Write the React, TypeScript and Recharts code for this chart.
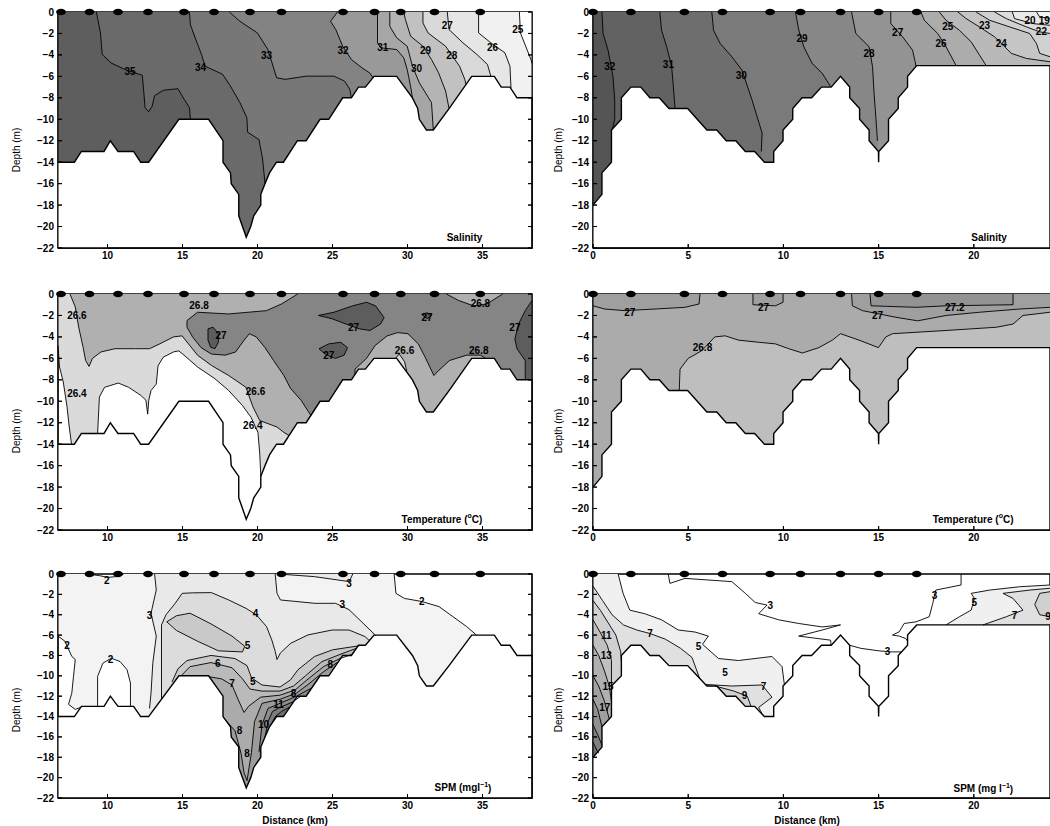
import React from 'react';
import { ScatterChart, Scatter, XAxis, YAxis, ReferenceArea } from 'recharts';

type P = [number, number];
type Lab = { x: number; y: number; t: string; sup?: string; t2?: string };

const FONT = '"Liberation Sans", Arial, Helvetica, sans-serif';
const BOT = -22;
const XL: P = [6.7, 38.3];
const XR: P = [0, 24];
const PAD = 8;
const XH = 22;
const TICK_PX = 4;

// ---------- axes ----------
const depthTicks = [0, -2, -4, -6, -8, -10, -12, -14, -16, -18, -20, -22];
const xTicksLeft = [10, 15, 20, 25, 30, 35];
const xTicksRight = [0, 5, 10, 15, 20];

// ---------- stations ----------
const stationsLeft = [6.9, 8.8, 10.7, 12.7, 15.1, 17.1, 19.5, 21.6, 25.7, 27.8, 29.55, 31.8, 34.85];
const stationsRight = [0, 1.99, 4.8, 6.8, 9.3, 10.9, 13.0, 15.0, 17.0];

// ---------- bathymetry ----------
const seabedL: P[] = [[6.7,-14],[7.79,-14],[8.26,-13],[9.77,-13],[10.19,-12],[10.7,-13],[11.74,-13],[12.21,-14],[12.74,-14],[14.76,-10],[16.74,-10],[17.7,-12],[17.7,-14],[18.2,-15],[18.25,-16],[18.75,-17],[18.75,-19],[19.0,-20],[19.25,-21],[19.55,-20],[19.75,-19],[20.22,-18],[20.22,-17],[20.5,-16],[20.8,-15],[21.27,-14],[21.73,-14],[22.66,-12],[23.24,-12],[24.17,-10],[24.75,-10],[25.68,-8],[26.26,-8],[26.73,-7],[27.19,-7],[27.77,-6],[29.28,-6],[30.33,-8],[30.68,-9],[30.79,-10],[31.26,-11],[31.72,-11],[32.77,-9],[34.28,-6],[35.79,-6],[36.25,-7],[36.83,-7],[37.3,-8],[38.3,-8]];
const seabedR: P[] = [[0,-18],[0.47,-17],[0.47,-15],[0.97,-14],[0.97,-11],[1.49,-10],[1.49,-8],[1.99,-7],[2.51,-7],[2.99,-8],[3.48,-8],[3.99,-9],[4.97,-9],[5.98,-11],[6.5,-11],[7.0,-12],[7.5,-12],[8.0,-13],[8.49,-13],[9.0,-14],[9.49,-14],[9.49,-13],[9.98,-12],[9.98,-11],[10.49,-10],[10.49,-9],[10.98,-8],[11.48,-8],[12.0,-7],[12.51,-7],[13.0,-6],[13.48,-7],[13.48,-8],[14.0,-9],[14.0,-10],[14.5,-11],[14.5,-12],[14.99,-13],[15.0,-14],[15.01,-13],[15.52,-12],[15.52,-10],[16.03,-9],[16.03,-8],[16.52,-7],[16.52,-6],[17.0,-5],[24,-5]];

// ---------- salinity, left section ----------
const sL35: P[] = [[9.26,0],[9.53,-1.95],[9.65,-3.96],[10.23,-4.74],[11.16,-5.36],[12.32,-5.9],[12.44,-7.8],[12.5,-8.9],[12.74,-9.3],[12.97,-8.8],[13.14,-7.8],[13.72,-7.3],[14.69,-7.15],[15.11,-8.14],[15.46,-8.9],[15.53,-10]];
const sL34: P[] = [[15.46,0],[15.53,-1.2],[15.92,-2.7],[16.27,-3.96],[16.5,-5.05],[17.67,-5.8],[18.13,-6.75],[18.83,-8.45],[19.29,-9.85],[19.34,-11.2],[20.1,-11.9],[20.34,-13.7],[20.5,-16]];
const sL33: P[] = [[18.13,0],[18.83,-0.87],[19.99,-1.95],[20.69,-3.5],[21.04,-5.05],[21.27,-6.13],[21.85,-6.28],[23.24,-5.98],[25.1,-5.98],[25.8,-6.44],[26.15,-7.2],[26.26,-8]];
const sL32: P[] = [[25.33,0],[24.87,-0.87],[25.22,-1.64],[25.68,-3.19],[26.26,-4.43],[26.96,-5.2],[27.5,-5.7],[27.7,-6.15]];
const sL31: P[] = [[28.0,0],[28.0,-2.88],[28.24,-3.34],[29.28,-3.5],[29.75,-4.27],[29.98,-5.36],[30.21,-6.97],[30.33,-8]];
const sL30: P[] = [[28.82,0],[28.82,-1.33],[29.28,-2.41],[29.98,-3.19],[30.33,-5.05],[30.79,-6.6],[31.6,-8.45],[31.72,-11]];
const sL29: P[] = [[29.75,0],[29.86,-0.7],[30.21,-2.26],[31.03,-3.19],[31.6,-4.43],[32.07,-5.67],[32.54,-7.37],[32.77,-9]];
const sL28: P[] = [[31.03,0],[31.03,-1.02],[31.37,-1.95],[32.54,-3.19],[33.0,-4.12],[33.47,-5.05],[33.82,-6.28],[33.9,-6.75]];
const sL27: P[] = [[32.65,0],[32.77,-1.64],[33.7,-2.88],[34.63,-3.96],[35.33,-4.89],[35.56,-6]];
const sL26: P[] = [[34.74,0],[34.74,-1.95],[35.56,-2.88],[36.49,-3.8],[36.83,-5.05],[36.9,-7.1]];
const sL25: P[] = [[37.46,0],[37.53,-1.95],[37.88,-3.19],[38.23,-4.43],[38.3,-4.8]];
const sLLevels = [sL35, sL34, sL33, sL32, sL31, sL30, sL29, sL28, sL27, sL26, sL25];
const sLColors = ['#5e5e5e', '#6a6a6a', '#777777', '#838383', '#999999', '#a6a6a6', '#b4b4b4', '#c1c1c1', '#d9d9d9', '#e6e6e6', '#f1f1f1', '#ffffff'];
const sLLabels: Lab[] = [
  { x: 11.5, y: -5.5, t: '35' }, { x: 16.2, y: -5.2, t: '34' }, { x: 20.6, y: -4.1, t: '33' },
  { x: 25.7, y: -3.55, t: '32' }, { x: 28.35, y: -3.35, t: '31' }, { x: 30.6, y: -5.3, t: '30' },
  { x: 31.2, y: -3.55, t: '29' }, { x: 32.95, y: -4.05, t: '28' }, { x: 32.65, y: -1.27, t: '27' },
  { x: 35.67, y: -3.28, t: '26' }, { x: 37.35, y: -1.64, t: '25' },
  { x: 33.8, y: -21.0, t: 'Salinity' },
];

// ---------- salinity, right section ----------
const sR32: P[] = [[0.47,0],[0.53,-2.0],[0.79,-3.55],[1.05,-6.0],[1.14,-8.2],[1.14,-10.0],[1.02,-10.95]];
const sR31: P[] = [[3.51,0],[3.6,-1.7],[3.87,-3.24],[4.13,-5.1],[4.22,-6.95],[4.31,-9]];
const sR30: P[] = [[6.24,0],[6.33,-1.7],[6.68,-2.94],[7.29,-4.17],[7.82,-5.4],[8.35,-8.19],[8.88,-11.28],[8.84,-13.0]];
const sR29: P[] = [[10.63,0],[10.81,-1.7],[11.07,-3.24],[11.51,-4.79],[12.04,-5.72],[12.48,-6.95]];
const sR28: P[] = [[13.58,0],[13.8,-2.0],[14.5,-3.24],[14.68,-5.1],[14.76,-7.57],[14.85,-9.73],[14.94,-12]];
const sR27: P[] = [[15.64,0],[15.64,-1.08],[16.26,-2.32],[16.78,-3.55],[16.92,-4.64],[16.96,-5.05]];
const sR26: P[] = [[17.22,0],[17.4,-0.77],[18.1,-2.0],[18.54,-3.24],[19.07,-5]];
const sR25: P[] = [[18.19,0],[18.54,-0.77],[19.24,-1.7],[19.86,-2.78],[20.3,-4.02],[20.65,-5]];
const sR24: P[] = [[19.16,0],[19.6,-0.62],[20.3,-1.39],[21.09,-2.32],[21.62,-3.24],[21.97,-3.86],[22.76,-4.33],[24,-4.64]];
const sR23: P[] = [[20.12,0],[20.83,-0.77],[21.88,-1.39],[22.93,-2.0],[23.29,-2.94],[23.46,-3.86],[24,-4.17]];
const sR22: P[] = [[21.09,0],[21.71,-0.62],[22.76,-1.39],[23.46,-1.85],[24,-2.0]];
const sR21: P[] = [[22.02,0],[22.14,-0.62],[23.11,-1.08],[24,-1.24]];
const sR20: P[] = [[23.3,0],[23.45,-0.45],[24,-0.6]];
const sRLevels = [sR32, sR31, sR30, sR29, sR28, sR27, sR26, sR25, sR24, sR23, sR22, sR21, sR20];
const sRColors = ['#555555', '#626262', '#6e6e6e', '#7a7a7a', '#878787', '#939393', '#a0a0a0', '#acacac', '#b9b9b9', '#c5c5c5', '#d1d1d1', '#dddddd', '#e9e9e9', '#f5f5f5'];
const sRLabels: Lab[] = [
  { x: 0.88, y: -5.1, t: '32' }, { x: 3.96, y: -4.94, t: '31' }, { x: 7.79, y: -5.96, t: '30' },
  { x: 10.98, y: -2.47, t: '29' }, { x: 14.5, y: -3.86, t: '28' }, { x: 16.0, y: -1.9, t: '27' },
  { x: 18.28, y: -2.94, t: '26' }, { x: 18.63, y: -1.33, t: '25' }, { x: 21.44, y: -2.94, t: '24' },
  { x: 20.56, y: -1.24, t: '23' }, { x: 23.55, y: -1.85, t: '22' }, { x: 22.95, y: -0.83, t: '20' },
  { x: 23.7, y: -0.83, t: '19' },
  { x: 20.8, y: -21.0, t: 'Salinity' },
];

// ---------- temperature, left section ----------
const tLStrip: P[] = [[6.7,-4.8],[6.8,-6.8],[7.05,-8.2],[7.3,-10.5],[7.45,-12.4],[7.6,-14]];
const tL264: P[] = [[9.34,-13],[9.46,-9.6],[9.8,-8.7],[10.72,-8.3],[11.41,-8.7],[12.22,-9.45],[12.56,-9.9],[12.68,-11.2],[12.75,-9.9],[12.9,-9.0],[13.25,-8.4],[13.37,-6.7],[13.71,-5.9],[14.4,-5.4],[14.75,-5.3],[15.1,-5.7],[16.0,-6.8],[17.16,-7.9],[18.08,-9.0],[19.0,-10.4],[19.57,-11.5],[20.03,-12.9],[20.15,-14.9],[20.22,-17]];
const tL266: P[] = [[7.5,0],[7.85,-1.2],[8.08,-3.1],[8.38,-5.0],[8.54,-6.2],[8.77,-6.75],[9.0,-6.0],[9.57,-5.4],[10.5,-5.1],[11.87,-5.1],[12.8,-5.1],[13.48,-4.65],[14.4,-4.0],[14.97,-3.9],[15.4,-4.65],[16.0,-5.7],[16.93,-6.66],[18.08,-7.6],[19.23,-8.7],[19.69,-10.5],[20.15,-11.8],[21.3,-12.4],[21.76,-12.9],[22.1,-13.2]];
const tL266Patch: P[] = [[29.2,-6.0],[29.45,-5.6],[29.8,-6.3],[29.95,-7.2]];
const tL268a: P[] = [[22.68,0],[21.6,-0.93],[20.6,-1.55],[18.08,-1.86],[16.0,-1.7],[15.3,-2.48],[15.3,-3.1],[15.67,-4.0],[16.24,-5.0],[16.93,-5.6],[17.85,-5.7],[18.54,-5.4],[19.11,-4.3],[19.46,-3.7],[19.92,-4.0],[20.5,-5.0],[21.07,-6.2],[21.76,-7.6],[22.2,-8.8],[22.9,-9.9],[23.55,-11.3]];
const tL268b: P[] = [[26.5,-7.5],[26.5,-7.0],[27.27,-6.0],[27.84,-4.8],[28.65,-3.9],[29.34,-3.6],[30.03,-3.7],[30.72,-4.65],[31.18,-5.9],[31.76,-7.6],[32.1,-7.1],[32.8,-6.2],[33.95,-5.7],[34.86,-5.7],[35.2,-6.0]];
const tL268c: P[] = [[32.6,0],[33.4,-0.6],[34.4,-1.1],[35.3,-0.93],[36.0,-0.3],[36.35,0]];
const tL27a: P[] = [[16.7,-3.25],[17.04,-3.1],[17.39,-3.7],[17.39,-4.5],[17.16,-5.1],[16.88,-4.96],[16.7,-4.3],[16.7,-3.25]];
const tL27b: P[] = [[24.06,-2.0],[25.1,-1.7],[26.35,-1.1],[27.27,-0.77],[27.87,-1.1],[28.44,-2.2],[28.2,-2.8],[27.5,-3.4],[26.8,-3.25],[25.9,-2.8],[24.96,-2.3],[24.06,-2.0]];
const tL27c: P[] = [[24.1,-5.1],[24.75,-4.65],[25.55,-4.5],[26.0,-5.0],[25.78,-5.7],[25.2,-6.0],[24.6,-5.7],[24.1,-5.1]];
const tL27d: P[] = [[30.95,-1.9],[31.3,-1.75],[31.6,-2.0],[31.3,-2.3],[30.95,-1.9]];
const tL27e: P[] = [[38.3,-0.6],[37.85,-1.55],[37.4,-2.8],[37.16,-4.2],[37.3,-5.1],[37.85,-6.2],[37.85,-8]];
const tLColors = ['#dadada', '#b0b0b0', '#858585', '#5d5d5d'];
const tLLabels: Lab[] = [
  { x: 7.96, y: -2.0, t: '26.6' }, { x: 16.1, y: -1.08, t: '26.8' }, { x: 17.57, y: -3.87, t: '27' },
  { x: 26.4, y: -3.1, t: '27' }, { x: 24.75, y: -5.73, t: '27' }, { x: 31.3, y: -2.17, t: '27' },
  { x: 34.86, y: -0.93, t: '26.8' }, { x: 37.16, y: -3.1, t: '27' }, { x: 29.8, y: -5.27, t: '26.6' },
  { x: 34.75, y: -5.27, t: '26.8' }, { x: 7.96, y: -9.3, t: '26.4' }, { x: 19.87, y: -9.05, t: '26.6' },
  { x: 19.69, y: -12.24, t: '26.4' },
  { x: 32.3, y: -21.0, t: 'Temperature (', sup: 'o', t2: 'C)' },
];

// ---------- temperature, right section ----------
const tR268: P[] = [[4.53,-9],[4.57,-7],[5.0,-6.0],[5.7,-5.3],[6.4,-4.0],[6.94,-3.9],[7.64,-4.3],[8.7,-4.5],[9.58,-4.65],[10.28,-5.1],[11.0,-5.5],[11.86,-5.0],[12.57,-4.3],[13.0,-3.7],[13.97,-4.3],[14.99,-5.0],[15.38,-4.0],[15.73,-3.7],[18.54,-3.4],[21.18,-3.1],[22.06,-2.8],[22.58,-2.0],[24,-1.7]];
const tR27a: P[] = [[5.62,0],[5.57,-0.93],[4.83,-1.24],[3.25,-1.4],[1.67,-1.55],[0.62,-1.4],[0,-1.1]];
const tR27b: P[] = [[8.4,0],[8.4,-1.0],[9.58,-1.1],[9.98,-0.77],[9.98,0]];
const tR27c: P[] = [[13.58,0],[13.62,-1.1],[14.15,-1.55],[15.03,-1.86],[15.9,-2.17],[17.05,-2.5],[18.54,-2.0],[20.3,-1.7],[22.4,-1.4],[24,-1.24]];
const tR272: P[] = [[14.55,0],[14.6,-1.1],[16.96,-1.24],[18.54,-1.1],[22.06,-1.0],[22.06,0]];
const tRColors = ['#ababab', '#bebebe', '#9f9f9f', '#939393'];
const tRLabels: Lab[] = [
  { x: 1.93, y: -1.7, t: '27' }, { x: 8.96, y: -1.24, t: '27' }, { x: 14.94, y: -2.0, t: '27' },
  { x: 19.0, y: -1.24, t: '27.2' }, { x: 5.75, y: -4.96, t: '26.8' },
  { x: 19.96, y: -21.0, t: 'Temperature (', sup: 'o', t2: 'C)' },
];

// ---------- SPM, left section ----------
const pL2top: P[] = [[8.65,0],[9.46,-0.16],[10.03,-0.33],[10.6,-0.25],[11.07,0]];
const pL2right: P[] = [[29.11,0],[29.23,-1.9],[29.8,-2.4],[30.95,-2.7],[32.1,-3.2],[33.02,-4.18],[33.94,-5.16],[34.6,-6.0]];
const pL2dome: P[] = [[11.53,-13.0],[11.53,-10.7],[11.3,-9.4],[10.84,-8.6],[10.26,-8.27],[9.69,-8.76],[9.34,-10.07],[9.34,-13.0]];
const pL2left: P[] = [[8.2,-13.1],[7.85,-13.3],[7.4,-12.8],[7.62,-11.7],[7.73,-10.1],[7.85,-8.4],[7.62,-8.1],[7.16,-6.6],[6.7,-6.1]];
const pL3left: P[] = [[13.14,0],[13.25,-1.57],[12.9,-3.86],[13.25,-6.1],[13.02,-8.76],[12.9,-11.7],[12.8,-13.2]];
const pL3mid: P[] = [[21.18,0],[21.3,-1.9],[21.53,-2.55],[23.83,-2.88],[25.2,-2.88],[26.1,-3.5],[27.04,-4.84],[27.85,-6.0]];
const pL3sliver: P[] = [[21.4,0],[23.8,-0.26],[26.12,-0.75],[26.35,0]];
const pL4: P[] = [[13.6,-12.2],[13.6,-5.0],[13.9,-4.0],[14.5,-2.9],[14.98,-1.9],[15.67,-1.85],[16.93,-1.83],[18.08,-2.55],[19.23,-3.37],[19.92,-4.0],[20.6,-5.16],[20.95,-6.47],[21.18,-7.6],[21.3,-8.4],[21.53,-7.75],[22.22,-6.8],[23.37,-5.98],[24.98,-5.5],[26.1,-5.5],[27.16,-6.14],[27.5,-6.6]];
const pL5blob: P[] = [[13.95,-4.7],[14.6,-4.1],[15.5,-3.85],[16.9,-4.9],[18.3,-6.1],[19.15,-7.1],[19.0,-7.65],[17.4,-7.55],[16.0,-6.6],[14.6,-5.55],[13.95,-4.7]];
const pL5: P[] = [[14.3,-10.6],[14.7,-9.3],[15.3,-8.5],[16.9,-8.0],[18.5,-8.3],[19.3,-9.0],[19.6,-10.2],[20.3,-10.9],[21.5,-11.1],[22.2,-10.4],[22.7,-9.4],[23.8,-8.1],[25.0,-7.45],[26.1,-7.2],[26.8,-7.05]];
const pL6: P[] = [[14.9,-10.0],[15.5,-9.1],[16.9,-8.7],[18.3,-9.2],[19.0,-10.3],[19.5,-11.3],[20.3,-11.5],[21.5,-11.5],[22.4,-11.0],[23.2,-10.0],[24.3,-8.6],[25.5,-7.9],[26.6,-7.3]];
const pL7: P[] = [[16.8,-10.1],[17.6,-10.3],[18.3,-10.9],[18.7,-12.3],[19.1,-13.6],[19.4,-13.0],[20.2,-12.1],[21.5,-11.9],[22.5,-11.4],[23.3,-10.4],[24.4,-9.1],[25.5,-8.3],[26.3,-7.9]];
const pL8: P[] = [[17.9,-14.4],[18.5,-15.4],[18.9,-17.6],[19.1,-19.5],[19.3,-20.3],[19.6,-17.5],[19.8,-14.5],[20.3,-12.7],[21.5,-12.3],[22.6,-11.7],[23.5,-10.7],[24.4,-9.6],[25.3,-8.7]];
const pL9: P[] = [[20.1,-17.5],[20.3,-14.8],[20.7,-13.2],[21.5,-12.7],[22.6,-12.0],[23.6,-11.2]];
const pL10: P[] = [[20.5,-16.0],[20.7,-14.5],[21.0,-13.5],[21.5,-13.1],[22.3,-12.6],[22.9,-12.0]];
const pL11: P[] = [[20.9,-14.8],[21.2,-14.0],[21.6,-13.5],[22.1,-13.1]];
const pLColors = ['#f3f3f3', '#e9e9e9', '#dcdcdc', '#c9c9c9', '#bababa', '#ababab', '#9b9b9b', '#8c8c8c', '#7c7c7c', '#6c6c6c'];
const pLLabels: Lab[] = [
  { x: 9.96, y: -0.65, t: '2' }, { x: 12.8, y: -4.1, t: '3' }, { x: 7.3, y: -7.06, t: '2' },
  { x: 10.2, y: -8.4, t: '2' }, { x: 19.87, y: -3.92, t: '4' }, { x: 19.34, y: -7.06, t: '5' },
  { x: 17.35, y: -8.76, t: '6' }, { x: 19.69, y: -10.55, t: '5' }, { x: 18.3, y: -10.8, t: '7' },
  { x: 18.8, y: -15.4, t: '8' }, { x: 19.3, y: -17.6, t: '8' }, { x: 20.4, y: -14.8, t: '10' },
  { x: 21.4, y: -12.85, t: '11' }, { x: 22.4, y: -11.7, t: '8' }, { x: 24.86, y: -8.9, t: '8' },
  { x: 26.1, y: -0.9, t: '3' }, { x: 25.66, y: -3.0, t: '3' }, { x: 30.95, y: -2.7, t: '2' },
  { x: 33.7, y: -21.0, t: 'SPM (mgl', sup: '\u22121', t2: ')' },
];

// ---------- SPM, right section ----------
const pR3a: P[] = [[3.95,0],[4.04,-0.92],[4.83,-0.43],[7.29,-0.75],[8.0,-1.9],[8.52,-2.8],[9.14,-3.05],[8.7,-3.9],[9.75,-4.5],[10.8,-4.86],[12.04,-5.2],[13.0,-5.0],[12.04,-5.5],[10.8,-6.1],[12.48,-6.5],[12.5,-7.0]];
const pR3b: P[] = [[19.33,0],[19.33,-1.08],[18.0,-1.58],[17.84,-2.9],[17.66,-4.2],[16.96,-4.7],[16.34,-4.86],[16.08,-5.68],[15.73,-6.0],[16.08,-6.1],[16.43,-6.34],[16.52,-6.6]];
const pR3c: P[] = [[13.48,-7.0],[14.06,-7.3],[15.03,-7.55],[15.64,-7.65],[16.2,-7.65]];
const pR5a: P[] = [[1.32,0],[1.58,-1.9],[1.93,-3.55],[2.72,-3.9],[3.6,-4.5],[4.48,-5.5],[5.36,-5.7],[6.06,-6.1],[5.75,-6.9],[6.59,-8.3],[7.64,-8.5],[9.4,-8.1],[9.93,-9.1],[10.05,-10.85]];
const pR5b: P[] = [[24,-1.08],[22.41,-1.25],[20.83,-1.58],[19.86,-1.9],[20.03,-2.4],[19.86,-3.55],[19.24,-4.2],[18.54,-5.0]];
const pR7a: P[] = [[0,-1.2],[0.5,-2.6],[1.0,-4.0],[1.6,-5.0],[2.3,-5.5],[3.0,-5.85],[3.8,-6.4],[4.6,-7.3],[5.2,-8.2],[5.6,-10.25]];
const pR7b: P[] = [[5.9,-10.85],[7.29,-11.0],[8.88,-10.9],[9.4,-12.1],[8.7,-13.1],[8.9,-13.8]];
const pR7c: P[] = [[24,-1.4],[22.93,-1.58],[21.53,-1.9],[22.06,-2.4],[22.58,-3.55],[21.7,-4.2],[20.48,-5.0]];
const pR9a: P[] = [[0,-2.6],[0.4,-3.6],[0.8,-4.8],[1.2,-6.0],[1.45,-7.6],[1.49,-8.5]];
const pR9b: P[] = [[6.4,-11.0],[7.4,-11.5],[8.1,-12.0],[8.3,-13.0]];
const pR9c: P[] = [[24,-1.74],[23.46,-1.9],[23.2,-3.0],[23.46,-4.0],[24,-4.2]];
const pR11: P[] = [[0,-4.5],[0.4,-5.8],[0.75,-7.0],[0.97,-8.5],[0.97,-11]];
const pR13: P[] = [[0,-7.0],[0.3,-8.0],[0.6,-9.5],[0.85,-11.0],[0.97,-12.5]];
const pR15: P[] = [[0,-10.0],[0.3,-11.0],[0.6,-12.5],[0.85,-14.2]];
const pR17: P[] = [[0,-12.3],[0.25,-13.3],[0.47,-15.0]];
const pR19: P[] = [[0,-14.8],[0.25,-15.8],[0.47,-16.8]];
const pR21: P[] = [[0,-16.5],[0.2,-17.3],[0.3,-17.6]];
const pRColors = ['#f0f0f0', '#e0e0e0', '#d0d0d0', '#c0c0c0', '#b0b0b0', '#a0a0a0', '#909090', '#808080', '#707070'];
const pRLabels: Lab[] = [
  { x: 9.31, y: -3.05, t: '3' }, { x: 2.99, y: -5.85, t: '7' }, { x: 5.54, y: -7.09, t: '5' },
  { x: 6.94, y: -9.72, t: '5' }, { x: 8.96, y: -11.03, t: '7' }, { x: 7.96, y: -11.92, t: '9' },
  { x: 15.47, y: -7.65, t: '3' }, { x: 17.93, y: -2.07, t: '3' }, { x: 20.03, y: -2.82, t: '5' },
  { x: 22.14, y: -4.04, t: '7' }, { x: 23.9, y: -4.14, t: '9' }, { x: 0.7, y: -6.0, t: '11' },
  { x: 0.7, y: -8.05, t: '13' }, { x: 0.79, y: -11.03, t: '15' }, { x: 0.62, y: -13.07, t: '17' },
  { x: 20.5, y: -21.1, t: 'SPM (mg l', sup: '\u22121', t2: ')' },
];

// ---------- polygon helpers (built from the arrays above) ----------
const last = (c: P[]) => c[c.length - 1];
const rightOf = (c: P[], xmax: number): P[] =>
  last(c)[0] >= xmax - 1e-6 ? [...c, [xmax, 0]] : [...c, [last(c)[0], BOT], [xmax, BOT], [xmax, 0]];
const below = (c: P[]): P[] => [...c, [last(c)[0], BOT], [c[0][0], BOT]];
const rect = (x: P): P[] => [[x[0], 0], [x[1], 0], [x[1], BOT], [x[0], BOT]];
const rev = (c: P[]): P[] => [...c].reverse();

type Fill = { pts: P[]; color: string };

const salLeftFills: Fill[] = [
  { pts: rect(XL), color: sLColors[0] },
  ...sLLevels.map((c, i) => ({ pts: rightOf(c, XL[1]), color: sLColors[i + 1] })),
];
const salRightFills: Fill[] = [
  { pts: rect(XR), color: sRColors[0] },
  ...sRLevels.map((c, i) => ({ pts: rightOf(c, XR[1]), color: sRColors[i + 1] })),
];
const tempLeftFills: Fill[] = [
  { pts: [[6.7, 0], ...tLStrip, ...tL264, [20.22, BOT], [38.3, BOT], [38.3, 0]], color: tLColors[0] },
  { pts: rightOf(tL266, XL[1]), color: tLColors[1] },
  { pts: [...tL266Patch, [29.6, -7.5]], color: tLColors[0] },
  { pts: [...tL268a, [23.55, BOT], [26.5, BOT], ...tL268b, [35.5, BOT], [38.3, BOT], [38.3, 0], ...rev(tL268c)], color: tLColors[2] },
  { pts: tL27a, color: tLColors[3] },
  { pts: tL27b, color: tLColors[3] },
  { pts: tL27c, color: tLColors[3] },
  { pts: tL27d, color: tLColors[3] },
  { pts: rightOf(tL27e, XL[1]), color: tLColors[3] },
];
const tempRightFills: Fill[] = [
  { pts: rect(XR), color: tRColors[0] },
  { pts: below(tR268), color: tRColors[1] },
  { pts: [...tR27a, [0, 0]], color: tRColors[2] },
  { pts: tR27b, color: tRColors[2] },
  { pts: [...tR27c, [24, 0]], color: tRColors[2] },
  { pts: tR272, color: tRColors[3] },
];
const spmLeftFills: Fill[] = [
  { pts: [[6.7, 0], ...pL2top, ...pL2right, [34.6, BOT], [11.53, BOT], ...pL2dome, ...pL2left], color: pLColors[0] },
  { pts: [...pL3mid, [27.85, BOT], [12.8, BOT], ...rev(pL3left)], color: pLColors[1] },
  { pts: pL3sliver, color: pLColors[1] },
  { pts: below(pL4), color: pLColors[2] },
  { pts: pL5blob, color: pLColors[3] },
  { pts: below(pL5), color: pLColors[3] },
  { pts: below(pL6), color: pLColors[4] },
  { pts: below(pL7), color: pLColors[5] },
  { pts: below(pL8), color: pLColors[6] },
  { pts: below(pL9), color: pLColors[7] },
  { pts: below(pL10), color: pLColors[8] },
  { pts: below(pL11), color: pLColors[9] },
];
const spmRightFills: Fill[] = [
  { pts: [...pR5a, [10.05, BOT], [0, BOT], [0, 0]], color: pRColors[0] },
  { pts: below(pR5b), color: pRColors[0] },
  { pts: below(pR7a), color: pRColors[1] },
  { pts: below(pR7b), color: pRColors[1] },
  { pts: below(pR7c), color: pRColors[1] },
  { pts: below(pR9a), color: pRColors[2] },
  { pts: below(pR9b), color: pRColors[2] },
  { pts: pR9c, color: pRColors[2] },
  { pts: below(pR11), color: pRColors[3] },
  { pts: below(pR13), color: pRColors[4] },
  { pts: below(pR15), color: pRColors[5] },
  { pts: below(pR17), color: pRColors[6] },
  { pts: below(pR19), color: pRColors[7] },
  { pts: below(pR21), color: pRColors[8] },
];

// inward tick marks along one side, as a comb path that runs along the axis line
const comb = (ticks: number[], base: number, len: number, horizontal: boolean): P[] => {
  const out: P[] = [];
  ticks.forEach((t) => {
    if (horizontal) out.push([t, base], [t, base + len], [t, base]);
    else out.push([base, t], [base + len, t], [base, t]);
  });
  return out;
};

// ---------- shapes ----------
const NoShape = () => <g />;
const DotShape = (p: any) => <ellipse cx={p.cx} cy={p.cy} rx={4.9} ry={3.3} fill="#000" />;
const TextShape = (p: any) => {
  const d = p.payload || {};
  return (
    <text x={p.cx} y={p.cy} textAnchor="middle" dominantBaseline="central" fontFamily={FONT} fontSize={10} fontWeight="bold" fill="#000">
      {d.t}
      {d.sup ? <tspan dy={-4} fontSize={7}>{d.sup}</tspan> : null}
      {d.t2 ? <tspan dy={d.sup ? 4 : 0}>{d.t2}</tspan> : null}
    </text>
  );
};
const toXY = (pts: P[]) => pts.map(([x, y]) => ({ x, y }));
const fmtDepth = (v: number) => (v === 0 ? '0' : '\u2212' + Math.abs(v));
const tickStyle = { fontSize: 10, fontWeight: 'bold', fill: '#000', fontFamily: FONT };

type PanelProps = {
  left: number; top: number; ph: number; right: boolean;
  fills: Fill[]; lines: P[][]; labels: Lab[]; seabed: P[]; stations: number[];
};

function Panel({ left, top, ph, right, fills, lines, labels, seabed, stations }: PanelProps) {
  const xd = right ? XR : XL;
  const width = right ? 505 : 545;
  const yw = right ? 48 : 58;
  const mr = right ? 0 : 13;
  const pw = width - yw - mr;
  const xt = right ? xTicksRight : xTicksLeft;
  const dy = (TICK_PX * 22) / ph;
  const dx = (TICK_PX * (xd[1] - xd[0])) / pw;
  const combs: P[][] = [
    comb(xt, BOT, dy, true),
    comb(depthTicks, xd[0], dx, false),
    ...(right ? [] : [comb(depthTicks, xd[1], -dx, false)]),
  ];
  const mask: P[] = [...seabed, [xd[1], BOT], [xd[0], BOT]];
  return (
    <div style={{ position: 'absolute', left, top: top - PAD }}>
      <ScatterChart width={width} height={PAD + ph + XH} margin={{ top: PAD, right: mr, bottom: 0, left: 0 }}>
        <XAxis type="number" dataKey="x" domain={xd} ticks={xt} height={XH}
          tickSize={0} tickMargin={4} axisLine={false} tickLine={false} tick={tickStyle} interval={0} />
        <YAxis type="number" dataKey="y" domain={[-22, 0]} ticks={depthTicks} width={yw}
          tickSize={0} tickMargin={4} axisLine={false} tickLine={false} tick={tickStyle} interval={0} tickFormatter={fmtDepth} />
        {fills.map((f, i) => (
          <Scatter key={'f' + i} data={toXY(f.pts)} shape={NoShape} line={{ fill: f.color, stroke: 'none' }} isAnimationActive={false} />
        ))}
        <Scatter key="mask" data={toXY(mask)} shape={NoShape} line={{ fill: '#ffffff', stroke: '#000', strokeWidth: 1.4 }} isAnimationActive={false} />
        {lines.map((l, i) => (
          <Scatter key={'l' + i} data={toXY(l)} shape={NoShape} line={{ fill: 'none', stroke: '#000', strokeWidth: 0.9 }} isAnimationActive={false} />
        ))}
        {combs.map((c, i) => (
          <Scatter key={'t' + i} data={toXY(c)} shape={NoShape} line={{ fill: 'none', stroke: '#000', strokeWidth: 1 }} isAnimationActive={false} />
        ))}
        <Scatter key="labels" data={labels} shape={TextShape} isAnimationActive={false} />
        <Scatter key="stations" data={stations.map((x) => ({ x, y: 0 }))} shape={DotShape} isAnimationActive={false} />
        <ReferenceArea x1={xd[0]} x2={xd[1]} y1={-22} y2={0} fill="none" fillOpacity={0} stroke="#000" strokeWidth={1.4} ifOverflow="visible" />
      </ScatterChart>
    </div>
  );
}

const TOPS = [12, 294, 574];
const HEIGHTS = [236, 236, 224];
const DEPTH_LABEL_Y = [150, 431, 710];

export default function App() {
  return (
    <div style={{ position: 'absolute', left: 0, top: 0, width: 1050, height: 826, background: '#fff', overflow: 'hidden' }}>
      <Panel left={0} top={TOPS[0]} ph={HEIGHTS[0]} right={false} fills={salLeftFills} lines={sLLevels} labels={sLLabels} seabed={seabedL} stations={stationsLeft} />
      <Panel left={545} top={TOPS[0]} ph={HEIGHTS[0]} right={true} fills={salRightFills} lines={sRLevels} labels={sRLabels} seabed={seabedR} stations={stationsRight} />
      <Panel left={0} top={TOPS[1]} ph={HEIGHTS[1]} right={false} fills={tempLeftFills}
        lines={[tLStrip, tL264, tL266, tL266Patch, tL268a, tL268b, tL268c, tL27a, tL27b, tL27c, tL27d, tL27e]}
        labels={tLLabels} seabed={seabedL} stations={stationsLeft} />
      <Panel left={545} top={TOPS[1]} ph={HEIGHTS[1]} right={true} fills={tempRightFills}
        lines={[tR268, tR27a, tR27b, tR27c, tR272]} labels={tRLabels} seabed={seabedR} stations={stationsRight} />
      <Panel left={0} top={TOPS[2]} ph={HEIGHTS[2]} right={false} fills={spmLeftFills}
        lines={[pL2top, pL2right, pL2dome, pL2left, pL3left, pL3mid, pL3sliver, pL4, pL5blob, pL5, pL6, pL7, pL8, pL9, pL10, pL11]}
        labels={pLLabels} seabed={seabedL} stations={stationsLeft} />
      <Panel left={545} top={TOPS[2]} ph={HEIGHTS[2]} right={true} fills={spmRightFills}
        lines={[pR3a, pR3b, pR3c, pR5a, pR5b, pR7a, pR7b, pR7c, pR9a, pR9b, pR9c, pR11, pR13, pR15, pR17, pR19, pR21]}
        labels={pRLabels} seabed={seabedR} stations={stationsRight} />
      <svg width={1050} height={826} style={{ position: 'absolute', left: 0, top: 0, pointerEvents: 'none' }}>
        {DEPTH_LABEL_Y.map((y, i) => (
          <text key={'dl' + i} transform={`translate(16,${y}) rotate(-90)`} textAnchor="middle" dominantBaseline="central"
            fontFamily='"Liberation Sans Narrow", "Liberation Sans", Arial, sans-serif' fontSize={10} fill="#000">Depth (m)</text>
        ))}
        {DEPTH_LABEL_Y.map((y, i) => (
          <text key={'dr' + i} transform={`translate(558,${y}) rotate(-90)`} textAnchor="middle" dominantBaseline="central"
            fontFamily='"Liberation Sans Narrow", "Liberation Sans", Arial, sans-serif' fontSize={10} fill="#000">Depth (m)</text>
        ))}
        <text x={295} y={820} textAnchor="middle" dominantBaseline="central" fontFamily={FONT} fontSize={10} fontWeight="bold">Distance (km)</text>
        <text x={807} y={820} textAnchor="middle" dominantBaseline="central" fontFamily={FONT} fontSize={10} fontWeight="bold">Distance (km)</text>
      </svg>
    </div>
  );
}
